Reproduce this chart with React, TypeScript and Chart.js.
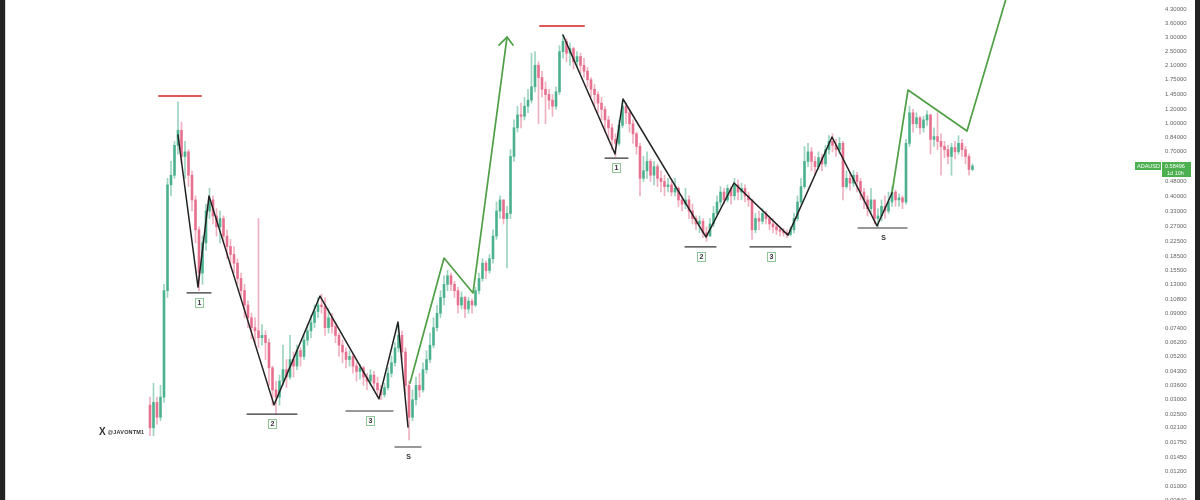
import { useEffect, useRef } from 'react';
import { Chart, registerables } from 'chart.js';

Chart.register(...registerables);

// ---- Candle data (ADA/USD, log price) ----
const FIRST_OPEN = 0.028;
const CLOSES = [
  0.021, 0.029, 0.024, 0.031, 0.12, 0.46, 0.52, 0.76, 0.92, 0.66,
  0.70, 0.52, 0.38, 0.26, 0.15, 0.22, 0.33, 0.38, 0.31, 0.27,
  0.30, 0.24, 0.21, 0.19, 0.17, 0.14, 0.12, 0.10, 0.085, 0.075,
  0.072, 0.066, 0.068, 0.062, 0.045, 0.034, 0.031, 0.038, 0.044, 0.040,
  0.050, 0.046, 0.056, 0.052, 0.064, 0.072, 0.080, 0.092, 0.10, 0.098,
  0.075, 0.085, 0.076, 0.068, 0.06, 0.055, 0.05, 0.052, 0.046, 0.043,
  0.045, 0.040, 0.038, 0.041, 0.037, 0.034, 0.032, 0.035, 0.042, 0.048,
  0.058, 0.068, 0.055, 0.036, 0.024, 0.03, 0.036, 0.034, 0.044, 0.05,
  0.06, 0.075, 0.09, 0.11, 0.13, 0.145, 0.13, 0.12, 0.10, 0.11,
  0.095, 0.105, 0.10, 0.12, 0.14, 0.17, 0.155, 0.18, 0.24, 0.33,
  0.38, 0.30, 0.32, 0.66, 0.95, 1.12, 1.10, 1.25, 1.35, 1.60,
  2.1, 1.8, 1.55, 1.45, 1.35, 1.25, 1.5, 2.5, 2.85, 2.45,
  2.6, 2.2, 2.35, 2.1, 1.95, 1.75, 1.55, 1.45, 1.3, 1.2,
  1.05, 0.95, 0.82, 0.78, 0.98, 1.25, 1.15, 1.0, 0.88, 0.75,
  0.50, 0.55, 0.62, 0.52, 0.58, 0.50, 0.48, 0.45, 0.46, 0.42,
  0.44, 0.38, 0.36, 0.38, 0.33, 0.30, 0.28, 0.29, 0.25, 0.24,
  0.28, 0.32, 0.37, 0.42, 0.38, 0.44, 0.40, 0.46, 0.42, 0.44,
  0.40, 0.38, 0.26, 0.30, 0.29, 0.32, 0.30, 0.28, 0.27, 0.26,
  0.255, 0.25, 0.245, 0.26, 0.30, 0.37, 0.45, 0.62, 0.70, 0.62,
  0.58, 0.65, 0.60, 0.72, 0.80, 0.76, 0.72, 0.78, 0.45, 0.50,
  0.47, 0.52, 0.48, 0.42, 0.38, 0.34, 0.38, 0.30, 0.31, 0.35,
  0.33, 0.37, 0.42, 0.38, 0.39, 0.37, 0.78, 1.15, 1.0, 1.08,
  0.95, 1.05, 1.12, 0.82, 0.85, 0.80, 0.75, 0.72, 0.66, 0.74,
  0.70, 0.78, 0.72, 0.66, 0.56, 0.58496,
];
const HIGHS = [
  0.031, 0.037, 0.031, 0.036, 0.13, 0.50, 0.62, 0.80, 1.32, 1.02,
  0.80, 0.72, 0.55, 0.40, 0.27, 0.24, 0.36, 0.44, 0.40, 0.34,
  0.33, 0.31, 0.26, 0.23, 0.21, 0.18, 0.15, 0.13, 0.105, 0.09,
  0.085, 0.30, 0.078, 0.072, 0.065, 0.046, 0.038, 0.041, 0.06, 0.05,
  0.068, 0.055, 0.06, 0.058, 0.068, 0.078, 0.088, 0.10, 0.11, 0.115,
  0.11, 0.095, 0.09, 0.08, 0.07, 0.064, 0.058, 0.056, 0.054, 0.048,
  0.047, 0.046, 0.042, 0.044, 0.043, 0.040, 0.036, 0.037, 0.045, 0.052,
  0.062, 0.078, 0.072, 0.058, 0.038, 0.034, 0.04, 0.042, 0.048, 0.056,
  0.07, 0.085, 0.10, 0.12, 0.145, 0.155, 0.15, 0.135, 0.125, 0.118,
  0.112, 0.11, 0.108, 0.125, 0.15, 0.18, 0.175, 0.19, 0.26, 0.37,
  0.40, 0.38, 0.35, 0.72, 1.05, 1.25, 1.30, 1.40, 1.55, 2.45,
  2.5, 2.2, 1.95, 1.7, 1.55, 1.45, 1.6, 2.7, 3.1, 2.95,
  2.8, 2.65, 2.5, 2.45, 2.3, 2.05, 1.8, 1.65, 1.5, 1.4,
  1.25, 1.1, 1.0, 0.88, 1.05, 1.35, 1.3, 1.2, 1.05, 0.9,
  0.78, 0.66, 0.70, 0.64, 0.62, 0.60, 0.55, 0.52, 0.50, 0.48,
  0.50, 0.45, 0.40, 0.44, 0.40, 0.36, 0.31, 0.31, 0.30, 0.27,
  0.30, 0.35, 0.40, 0.45, 0.44, 0.46, 0.45, 0.50, 0.49, 0.47,
  0.46, 0.42, 0.38, 0.32, 0.33, 0.34, 0.33, 0.31, 0.30, 0.28,
  0.27, 0.265, 0.26, 0.27, 0.32, 0.40, 0.50, 0.75, 0.78, 0.74,
  0.66, 0.70, 0.68, 0.76, 0.86, 0.88, 0.82, 0.84, 0.80, 0.55,
  0.54, 0.55, 0.54, 0.50, 0.44, 0.40, 0.44, 0.38, 0.34, 0.38,
  0.40, 0.42, 0.45, 0.43, 0.41, 0.40, 0.82, 1.25, 1.2, 1.15,
  1.1, 1.1, 1.18, 1.12, 0.95, 1.15, 0.88, 0.80, 0.76, 0.78,
  0.80, 0.86, 0.82, 0.75, 0.68, 0.60,
];
const LOWS = [
  0.019, 0.019, 0.022, 0.023, 0.029, 0.11, 0.40, 0.50, 0.68, 0.60,
  0.50, 0.45, 0.33, 0.22, 0.12, 0.13, 0.20, 0.30, 0.28, 0.24,
  0.22, 0.22, 0.18, 0.16, 0.15, 0.13, 0.11, 0.085, 0.075, 0.065,
  0.062, 0.058, 0.060, 0.05, 0.036, 0.028, 0.025, 0.028, 0.036, 0.035,
  0.039, 0.040, 0.044, 0.046, 0.05, 0.06, 0.066, 0.075, 0.085, 0.09,
  0.068, 0.07, 0.07, 0.062, 0.052, 0.048, 0.045, 0.046, 0.042, 0.038,
  0.039, 0.036, 0.034, 0.036, 0.034, 0.031, 0.030, 0.031, 0.034, 0.04,
  0.046, 0.055, 0.05, 0.032, 0.018, 0.023, 0.028, 0.031, 0.033, 0.042,
  0.048, 0.058, 0.072, 0.085, 0.10, 0.12, 0.12, 0.11, 0.09, 0.095,
  0.085, 0.09, 0.09, 0.098, 0.115, 0.135, 0.14, 0.15, 0.17, 0.23,
  0.30, 0.28, 0.16, 0.30, 0.62, 0.90, 0.95, 1.05, 1.15, 1.3,
  1.5, 1.0, 1.4, 1.0, 1.2, 1.1, 1.2, 1.45, 2.3, 2.2,
  2.1, 2.0, 2.05, 1.9, 1.8, 1.6, 1.4, 1.25, 1.15, 1.05,
  0.9, 0.82, 0.72, 0.66, 0.76, 0.95, 1.0, 0.9, 0.78, 0.68,
  0.40, 0.48, 0.50, 0.48, 0.46, 0.45, 0.42, 0.40, 0.42, 0.40,
  0.40, 0.35, 0.33, 0.34, 0.30, 0.28, 0.26, 0.25, 0.235, 0.225,
  0.24, 0.27, 0.31, 0.35, 0.36, 0.37, 0.36, 0.38, 0.38, 0.38,
  0.37, 0.35, 0.23, 0.25, 0.26, 0.28, 0.28, 0.26, 0.25, 0.245,
  0.24, 0.24, 0.235, 0.24, 0.25, 0.29, 0.36, 0.44, 0.58, 0.55,
  0.52, 0.56, 0.55, 0.58, 0.68, 0.70, 0.66, 0.68, 0.38, 0.44,
  0.43, 0.45, 0.42, 0.38, 0.34, 0.31, 0.32, 0.28, 0.27, 0.29,
  0.30, 0.32, 0.35, 0.35, 0.35, 0.34, 0.36, 0.75, 0.9, 0.95,
  0.88, 0.9, 0.98, 0.68, 0.75, 0.72, 0.52, 0.65, 0.60, 0.52,
  0.64, 0.68, 0.66, 0.60, 0.52, 0.55,
];
const OPENS = [FIRST_OPEN, ...CLOSES.slice(0, -1)];

// ---- Price axis ticks ----
const Y_TICKS = [
  4.3, 3.6, 3.0, 2.5, 2.1, 1.75, 1.45, 1.2, 1.0, 0.84, 0.7, 0.58, 0.48, 0.4, 0.33,
  0.27, 0.225, 0.185, 0.155, 0.13, 0.108, 0.09, 0.074, 0.062, 0.052, 0.043, 0.036,
  0.03, 0.025, 0.021, 0.0175, 0.0145, 0.012, 0.01, 0.0084,
];
const Y_MIN = 0.00839;
const Y_MAX = 4.82;
const X_MIN = -42.857;
const X_MAX = 288.57;

// ---- Drawn annotations (in candle index / price units) ----
const ZIGZAG_A_X = [8, 13.71, 16.86, 35.43, 48.57, 65.43, 70.86, 73.71];
const ZIGZAG_A_Y = [0.867, 0.1256, 0.4, 0.0281, 0.112, 0.0303, 0.0806, 0.0212];
const ZIGZAG_B_X = [118, 132.86, 135.14, 158.86, 166.86, 182.29, 194.86, 207.71, 212];
const ZIGZAG_B_Y = [3.09, 0.681, 1.37, 0.237, 0.471, 0.243, 0.845, 0.273, 0.415];
const PROJ_A_X = [74.29, 84, 92.29, 102];
const PROJ_A_Y = [0.0371, 0.1816, 0.1165, 3.01];
const ARROW_X = [99.71, 102, 103.71];
const ARROW_Y = [2.72, 3.01, 2.72];
const PROJ_B_X = [212, 216.57, 233.43, 247];
const PROJ_B_Y = [0.415, 1.536, 0.912, 7.06];

const TOP_FROM = [2.57, 111.43];
const TOP_TO = [14.57, 124];
const TOP_PRICE = [1.424, 3.46];

const LEVEL_FROM = [10.57, 27.71, 56, 70, 130, 152.86, 171.43, 202.29];
const LEVEL_TO = [17.43, 42, 69.43, 77.43, 136.57, 161.71, 183.14, 216.29];
const LEVEL_PRICE = [0.1165, 0.025, 0.026, 0.01645, 0.647, 0.209, 0.209, 0.266];
const LEVEL_TEXT = ['1', '2', '3', 'S', '1', '2', '3', 'S'];

const SYMBOL = 'ADAUSD';
const COUNTDOWN = '1d 10h';

const GREEN = 'rgba(60,170,132,0.85)';
const RED = 'rgba(228,100,132,0.85)';
const GREEN_WICK = 'rgba(60,170,132,0.5)';
const RED_WICK = 'rgba(228,100,132,0.5)';
const FONT = '"Liberation Sans", Arial, sans-serif';

export default function App() {
  const ref = useRef<HTMLCanvasElement>(null);

  useEffect(() => {
    const canvas = ref.current;
    if (!canvas) return;
    const up = (i: number) => CLOSES[i] >= OPENS[i];

    const lineDs = (xs: number[], ys: number[], color: string, width: number) => ({
      type: 'line' as const,
      data: xs.map((x, k) => ({ x, y: ys[k] })),
      borderColor: color,
      backgroundColor: color,
      borderWidth: width,
      pointRadius: 0,
      fill: false,
      tension: 0,
      order: 1,
      borderCapStyle: 'round' as const,
      borderJoinStyle: 'round' as const,
    });

    const datasets: any[] = [
      {
        type: 'bar',
        data: CLOSES.map((_, i) => ({ x: i, y: [LOWS[i], HIGHS[i]] })),
        backgroundColor: (c: any) => (up(c.dataIndex) ? GREEN_WICK : RED_WICK),
        barThickness: 1,
        grouped: false,
        order: 3,
      },
      {
        type: 'bar',
        data: CLOSES.map((_, i) => ({ x: i, y: [OPENS[i], CLOSES[i]] })),
        backgroundColor: (c: any) => (up(c.dataIndex) ? GREEN : RED),
        barThickness: 2,
        minBarLength: 1,
        grouped: false,
        order: 2,
      },
      lineDs(ZIGZAG_A_X, ZIGZAG_A_Y, '#222222', 1.5),
      lineDs(ZIGZAG_B_X, ZIGZAG_B_Y, '#222222', 1.5),
      lineDs(PROJ_A_X, PROJ_A_Y, '#4f9f45', 1.7),
      lineDs(ARROW_X, ARROW_Y, '#4f9f45', 1.7),
      lineDs(PROJ_B_X, PROJ_B_Y, '#4f9f45', 1.7),
    ];
    TOP_FROM.forEach((f, k) => datasets.push(lineDs([f, TOP_TO[k]], [TOP_PRICE[k], TOP_PRICE[k]], '#e05858', 2)));
    LEVEL_FROM.forEach((f, k) =>
      datasets.push(lineDs([f, LEVEL_TO[k]], [LEVEL_PRICE[k], LEVEL_PRICE[k]], '#333333', 1.2))
    );

    const labelPlugin = {
      id: 'levelLabels',
      afterDatasetsDraw(chart: any) {
        const { ctx, scales } = chart;
        const x = scales.x;
        const y = scales.y;
        ctx.save();
        LEVEL_TEXT.forEach((t, k) => {
          const cx = Math.round(x.getPixelForValue((LEVEL_FROM[k] + LEVEL_TO[k]) / 2));
          const cy = Math.round(y.getPixelForValue(LEVEL_PRICE[k]) + 10);
          if (t !== 'S') {
            ctx.fillStyle = '#ffffff';
            ctx.fillRect(cx - 4, cy - 5, 9, 10);
            ctx.strokeStyle = '#8fc79b';
            ctx.lineWidth = 1;
            ctx.strokeRect(cx - 4 + 0.5, cy - 5 + 0.5, 8, 9);
          }
          ctx.fillStyle = '#333333';
          ctx.font = `bold 7px ${FONT}`;
          ctx.textAlign = 'center';
          ctx.textBaseline = 'middle';
          ctx.fillText(t, cx + 0.5, cy + 0.5);
        });
        ctx.restore();
      },
      afterDraw(chart: any) {
        const { ctx, scales } = chart;
        const last = CLOSES[CLOSES.length - 1];
        const py = Math.round(scales.y.getPixelForValue(last));
        ctx.save();
        ctx.fillStyle = '#4caf50';
        ctx.fillRect(1135, py - 4, 26, 8);
        ctx.fillRect(1162, py - 4, 29, 15);
        ctx.fillStyle = '#ffffff';
        ctx.font = `5.5px ${FONT}`;
        ctx.textBaseline = 'middle';
        ctx.textAlign = 'left';
        ctx.fillText(SYMBOL, 1137, py);
        ctx.fillText(last.toFixed(5), 1165, py);
        ctx.fillText(COUNTDOWN, 1167, py + 7);
        ctx.restore();
      },
    };

    const chart = new Chart(canvas, {
      type: 'bar',
      data: { datasets },
      options: {
        animation: false,
        responsive: false,
        maintainAspectRatio: false,
        layout: { padding: 0 },
        plugins: { legend: { display: false }, tooltip: { enabled: false } },
        scales: {
          x: {
            type: 'linear',
            min: X_MIN,
            max: X_MAX,
            offset: false,
            display: false,
            grid: { display: false },
          },
          y: {
            type: 'logarithmic',
            position: 'right',
            min: Y_MIN,
            max: Y_MAX,
            grid: { display: false, drawTicks: false },
            border: { display: false },
            ticks: {
              autoSkip: false,
              padding: 5,
              color: '#666666',
              font: { size: 6, family: FONT },
              callback: (v: any) => Number(v).toFixed(5),
            },
            afterBuildTicks: (scale: any) => {
              scale.ticks = Y_TICKS.map((v) => ({ value: v }));
            },
            afterFit: (scale: any) => {
              scale.width = 40;
              scale.paddingTop = 0;
              scale.paddingBottom = 0;
            },
          },
        },
      } as any,
      plugins: [labelPlugin],
    });

    return () => chart.destroy();
  }, []);

  return (
    <div
      style={{
        position: 'fixed',
        left: 0,
        top: 0,
        width: 1200,
        height: 500,
        background: '#ffffff',
        overflow: 'hidden',
      }}
    >
      <canvas ref={ref} width={1200} height={500} style={{ position: 'absolute', left: 0, top: 0, width: 1200, height: 500 }} />
      <div style={{ position: 'absolute', left: 0, top: 0, width: 5, height: 500, background: '#232323' }} />
      <div style={{ position: 'absolute', left: 5, top: 0, width: 1, height: 500, background: '#d8d8d8' }} />
      <div style={{ position: 'absolute', right: 0, top: 0, width: 5, height: 500, background: '#232323' }} />
      <div
        style={{
          position: 'absolute',
          left: 99,
          top: 427,
          fontFamily: FONT,
          color: '#333',
          fontWeight: 'bold',
          display: 'flex',
          alignItems: 'center',
          gap: 2,
          whiteSpace: 'nowrap',
        }}
      >
        <span style={{ fontSize: 10, lineHeight: '10px' }}>X</span>
        <span style={{ fontSize: 5.5, lineHeight: '10px', letterSpacing: 0.2 }}>@JAVONTM1</span>
      </div>
    </div>
  );
}
